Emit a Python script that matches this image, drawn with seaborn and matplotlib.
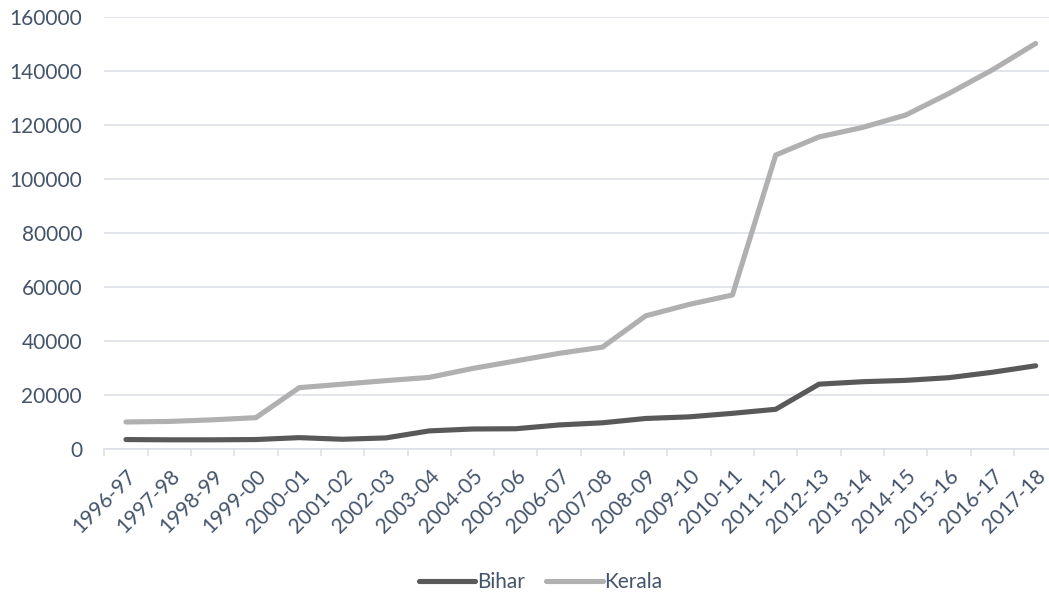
import matplotlib
matplotlib.use("Agg")
import matplotlib.pyplot as plt
import seaborn as sns
import pandas as pd
import numpy as np

years = ["1996-97", "1997-98", "1998-99", "1999-00", "2000-01", "2001-02", "2002-03",
         "2003-04", "2004-05", "2005-06", "2006-07", "2007-08", "2008-09", "2009-10",
         "2010-11", "2011-12", "2012-13", "2013-14", "2014-15", "2015-16", "2016-17",
         "2017-18"]
bihar = [3500, 3400, 3400, 3500, 4200, 3600, 4100, 6700, 7400, 7500, 8900, 9700,
         11300, 11900, 13200, 14700, 24000, 24900, 25400, 26400, 28400, 30800]
kerala = [10000, 10200, 10800, 11600, 22700, 24000, 25300, 26500, 29800, 32600,
          35400, 37700, 49300, 53500, 57000, 108800, 115500, 119000, 123600, 131600,
          140300, 150100]
series_names = ["Bihar", "Kerala"]
colors = {"Bihar": "#595959", "Kerala": "#B0B0B0"}
yticks = [0, 20000, 40000, 60000, 80000, 100000, 120000, 140000, 160000]

df = pd.DataFrame({
    "year": years * 2,
    "idx": list(range(len(years))) * 2,
    "value": bihar + kerala,
    "state": ["Bihar"] * len(years) + ["Kerala"] * len(years),
})

sns.set_style("white")
plt.rcParams["font.family"] = ["Lato", "DejaVu Sans"]
text_color = "#44546A"
grid_color = "#DDE1E7"
fs = 15

fig = plt.figure(figsize=(10.49, 5.96), dpi=100)
ax = fig.add_axes([104.3 / 1049, 147 / 596, 953 / 1049, 432.3 / 596])

sns.lineplot(data=df, x="idx", y="value", hue="state", hue_order=series_names,
             palette=colors, linewidth=3.7, ax=ax, legend=False,
             solid_capstyle="round", solid_joinstyle="round", zorder=3)

ax.set_xlim(-0.5, len(years) - 0.5)
ax.set_ylim(0, 160000)
ax.set_yticks(yticks)
ax.set_yticklabels([str(v) for v in yticks])
ax.yaxis.grid(True, color=grid_color, linewidth=1.2, zorder=0)
ax.xaxis.grid(False)
for s in ["top", "right", "left"]:
    ax.spines[s].set_visible(False)
ax.spines["bottom"].set_color(grid_color)
ax.spines["bottom"].set_linewidth(1.2)

ax.set_xticks(range(len(years)))
ax.set_xticklabels(years, rotation=45, ha="right", rotation_mode="anchor")
ax.set_xticks(np.arange(-0.5, len(years), 1.0), minor=True)
ax.tick_params(axis="x", which="major", length=0, pad=12, labelsize=fs, labelcolor=text_color)
ax.tick_params(axis="x", which="minor", length=5, width=1.2, color=grid_color, bottom=True)
ax.tick_params(axis="y", length=0, pad=16, labelsize=fs, labelcolor=text_color)
ax.set_xlabel("")
ax.set_ylabel("")

handles = [plt.Line2D([], [], color=colors[n], linewidth=3.7, solid_capstyle="round")
           for n in series_names]
fig.legend(handles, series_names, loc="center", bbox_to_anchor=(541 / 1049, 1 - 582 / 596),
           ncol=2, frameon=False, fontsize=fs, labelcolor=text_color,
           handlelength=2.7, handletextpad=0.1, columnspacing=1.0)

fig.savefig("out.png", dpi=100)
